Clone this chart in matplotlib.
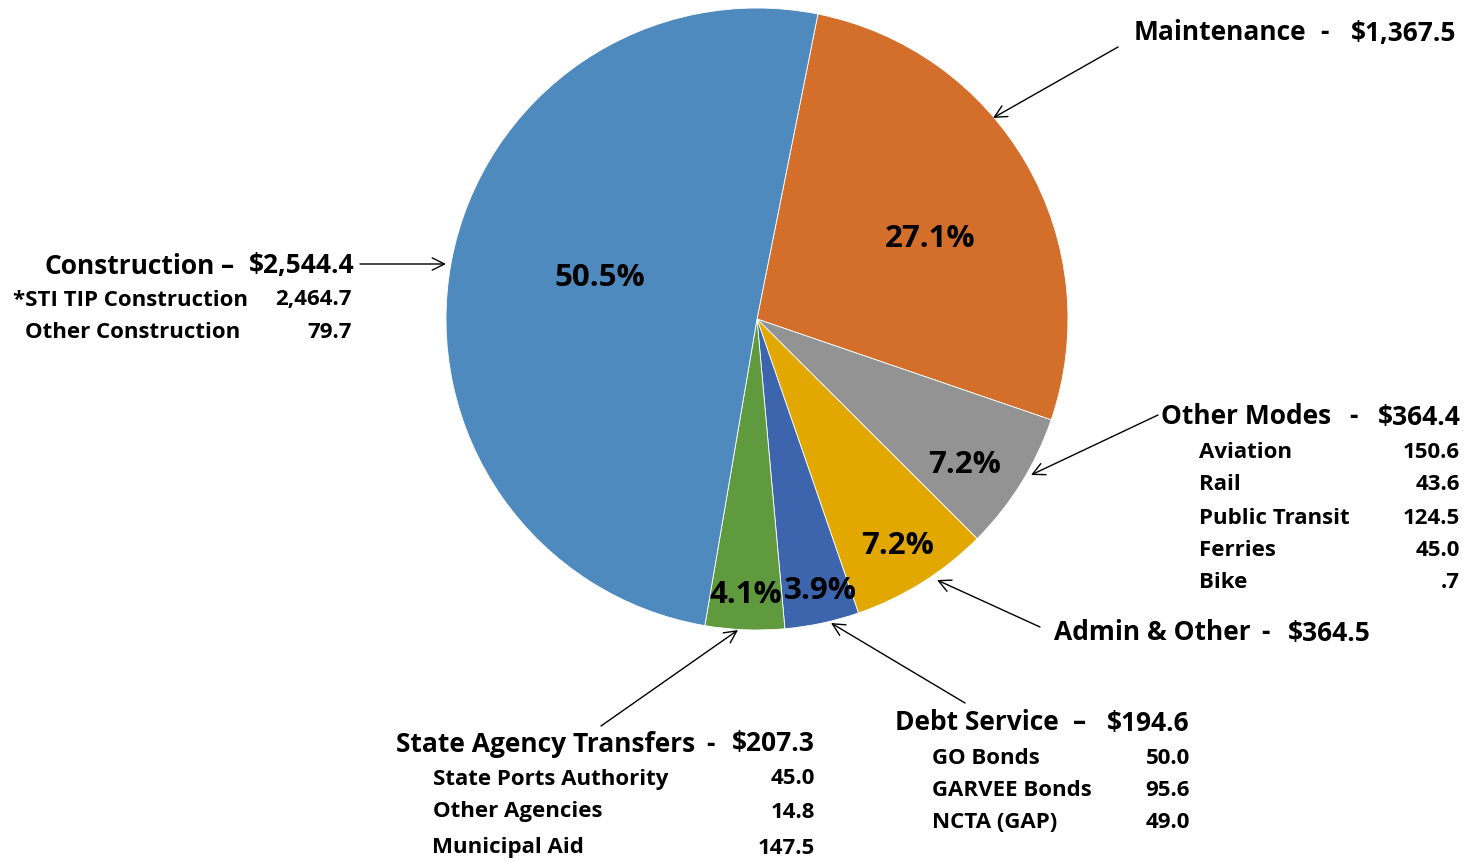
import matplotlib
matplotlib.use('Agg')
import matplotlib.pyplot as plt

plt.rcParams['font.family'] = ['Open Sans', 'DejaVu Sans']
plt.rcParams['font.weight'] = 'bold'

# slice data, clockwise from the top
categories = ['Maintenance', 'Other Modes', 'Admin & Other', 'Debt Service',
              'State Agency Transfers', 'Construction']
values = [1367.5, 364.4, 364.5, 194.6, 207.3, 2544.4]
colors = ['#D36F2B', '#939393', '#E3A800', '#3C65AE', '#5F9A3F', '#4F8ABE']

construction_items = ['*STI TIP Construction', 'Other Construction']
construction_vals = [2464.7, 79.7]
modes_items = ['Aviation', 'Rail', 'Public Transit', 'Ferries', 'Bike']
modes_vals = [150.6, 43.6, 124.5, 45.0, 0.7]
debt_items = ['GO Bonds', 'GARVEE Bonds', 'NCTA (GAP)']
debt_vals = [50.0, 95.6, 49.0]
agency_items = ['State Ports Authority', 'Other Agencies', 'Municipal Aid']
agency_vals = [45.0, 14.8, 147.5]

W, H = 1465, 861
fig = plt.figure(figsize=(W / 100, H / 100), dpi=100)
ax = fig.add_axes([0, 0, 1, 1])
ax.set_xlim(0, W)
ax.set_ylim(0, H)
ax.axis('off')


def Y(py):
    # pixel row (from top) -> data y, text sits a touch lower
    return H - py


total = sum(values)
wedges, _ = ax.pie(values, colors=colors, startangle=78.7, counterclock=False,
                   center=(757, Y(319)), radius=311,
                   wedgeprops=dict(edgecolor='white', linewidth=0.6))
ax.set_xlim(0, W)
ax.set_ylim(0, H)

# percentage labels
pct_pos = [(930, 239), (965, 465), (898, 546), (820, 591), (746, 595), (600, 278)]
for v, (px, py) in zip(values, pct_pos):
    ax.text(px, Y(py), f'{100 * v / total:.1f}%', ha='center', va='center',
            fontsize=22.5, fontweight='bold', color='black')


def fmt(v):
    s = f'{v:,.1f}'
    return s[1:] if s.startswith('0.') else s


def header(name, dash, amount, x0, xd, x1, py, size=19):
    py += 2
    ax.text(x0, Y(py), name, ha='left', va='center', fontsize=size)
    ax.text(xd, Y(py), dash, ha='center', va='center', fontsize=size)
    ax.text(x1, Y(py), amount, ha='right', va='center', fontsize=size)


def items(names, vals, xs, x1, ys, size=16):
    for n, v, x, y in zip(names, vals, xs, ys):
        ax.text(x, Y(y + 2), n, ha='left', va='center', fontsize=size)
        ax.text(x1, Y(y + 2), fmt(v), ha='right', va='center', fontsize=size)


def arrow(tail, tip):
    ax.annotate('', xy=(tip[0], Y(tip[1])), xytext=(tail[0], Y(tail[1])),
                arrowprops=dict(arrowstyle='->', color='black', lw=1,
                                mutation_scale=22, shrinkA=0, shrinkB=0))


# Maintenance
header(categories[0], '-', f'${values[0]:,.1f}', 1134, 1324, 1456, 31)
arrow((1118, 47), (993, 118))

# Construction
header(categories[5], '\u2013', f'${values[5]:,.1f}', 45, 228, 355, 264)
items(construction_items, construction_vals, [13, 25], 352, [298, 331])
arrow((360, 264), (446, 264))

# Other Modes
header(categories[1], '-', f'${values[1]:,.1f}', 1161, 1353, 1461, 415)
items(modes_items, modes_vals, [1199] * 5, 1460, [451, 483, 516, 548, 580])
arrow((1158, 415), (1031, 475))

# Admin & Other
header('Admin & Other', '-', f'${values[2]:,.1f}', 1054, 1265, 1371, 631)
arrow((1040, 627), (937, 580))

# Debt Service
header(categories[3], '\u2013', f'${values[3]:,.1f}', 895, 1080, 1190, 721)
items(debt_items, debt_vals, [932] * 3, 1190, [757, 789, 821])
arrow((965, 703), (831, 623))

# State Agency Transfers
header(categories[4], '-', f'${values[4]:,.1f}', 396, 710, 815, 742)
items(agency_items, agency_vals, [433, 433, 432], 815, [777, 810, 846])
arrow((601, 726), (738, 630))

fig.savefig('out.png', dpi=100)
